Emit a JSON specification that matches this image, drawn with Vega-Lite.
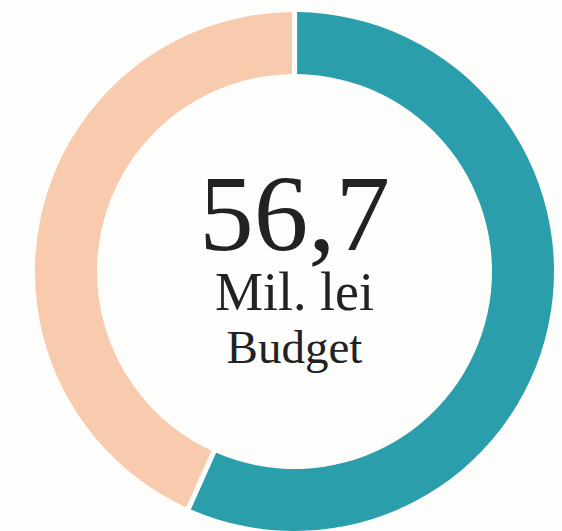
{
  "$schema": "https://vega.github.io/schema/vega-lite/v6.json",
  "width": 562,
  "height": 531,
  "autosize": {"type": "fit", "contains": "padding"},
  "padding": {"left": 27, "right": 0, "top": 12, "bottom": 0},
  "background": "#fdfdfb",
  "config": {"view": {"stroke": null}},
  "datasets": {
    "parts": [
      {"part": "Budget", "value": 56.7, "rank": 1},
      {"part": "Rest", "value": 43.3, "rank": 2}
    ],
    "labels": [
      {"label": "56,7"},
      {"label": "Mil. lei"},
      {"label": "Budget"}
    ]
  },
  "layer": [
    {
      "data": {"name": "parts"},
      "mark": {"type": "arc", "outerRadius": 259.5, "innerRadius": 197.5, "padAngle": 0.016},
      "encoding": {
        "theta": {"field": "value", "type": "quantitative", "stack": true},
        "order": {"field": "rank", "type": "quantitative"},
        "color": {"field": "part", "type": "nominal", "scale": {"domain": ["Budget", "Rest"], "range": ["#2b9eab", "#f8cbae"]}, "legend": null}
      }
    },
    {
      "data": {"name": "labels"},
      "transform": [{"filter": "datum.label == '56,7'"}],
      "mark": {"type": "text", "font": "Liberation Serif", "fontSize": 109, "dy": -22, "baseline": "alphabetic", "align": "center", "color": "#222222"},
      "encoding": {"text": {"field": "label"}}
    },
    {
      "data": {"name": "labels"},
      "transform": [{"filter": "datum.label == 'Mil. lei'"}],
      "mark": {"type": "text", "font": "Liberation Serif", "fontSize": 54, "dy": 38.5, "baseline": "alphabetic", "align": "center", "color": "#222222"},
      "encoding": {"text": {"field": "label"}}
    },
    {
      "data": {"name": "labels"},
      "transform": [{"filter": "datum.label == 'Budget'"}],
      "mark": {"type": "text", "font": "Liberation Serif", "fontSize": 47, "dy": 91.5, "baseline": "alphabetic", "align": "center", "color": "#222222"},
      "encoding": {"text": {"field": "label"}}
    }
  ]
}
